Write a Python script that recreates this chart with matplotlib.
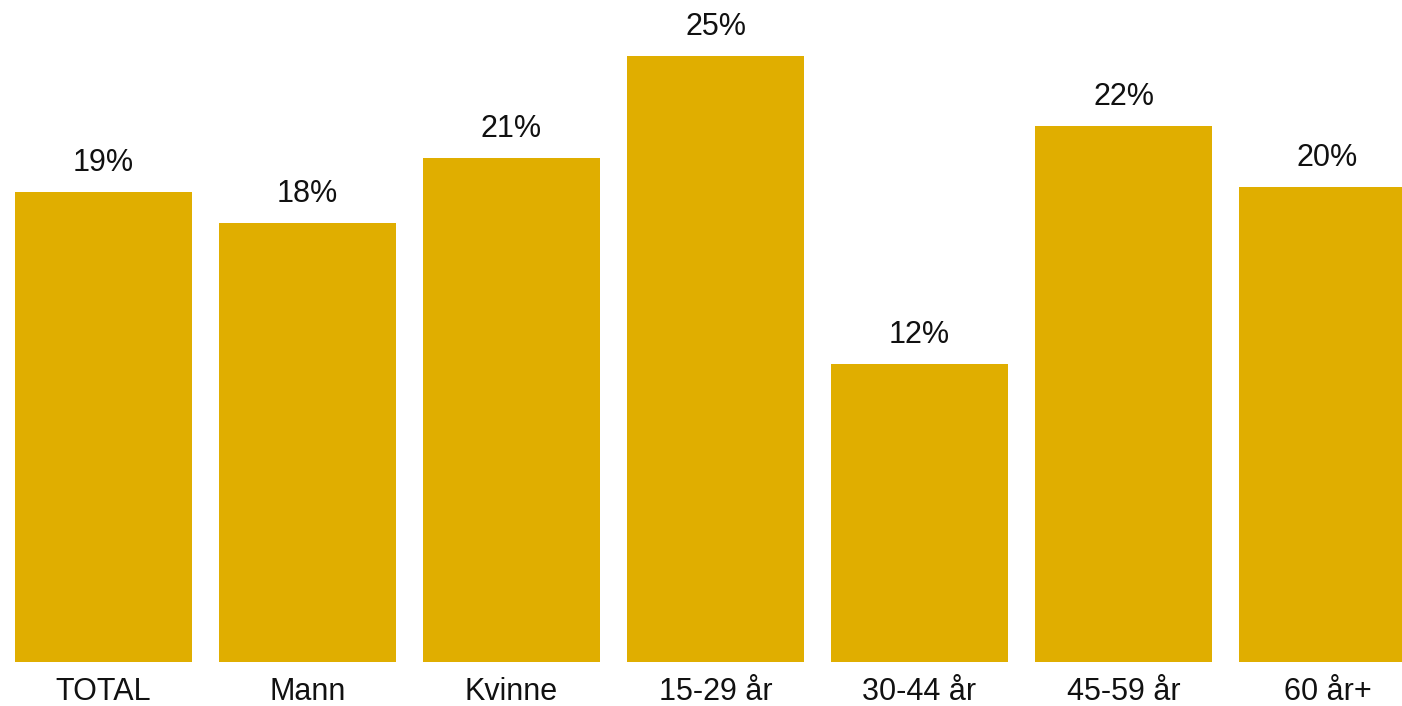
import matplotlib.pyplot as plt

categories = ['TOTAL', 'Mann', 'Kvinne', '15-29 år', '30-44 år', '45-59 år', '60 år+']
values = [19.4, 18.1, 20.8, 25.0, 12.3, 22.1, 19.6]
labels = ['19%', '18%', '21%', '25%', '12%', '22%', '20%']

plt.rcParams['font.family'] = ['Liberation Sans', 'DejaVu Sans']

fig = plt.figure(figsize=(14.02, 7.06), dpi=100)
ax = fig.add_axes([0, (706 - 662) / 706, 1, 662 / 706])

x = range(len(categories))
bars = ax.bar(x, values, width=177 / 204, color='#E0AE00')

for b, lab in zip(bars, labels):
    ax.annotate(lab, (b.get_x() + b.get_width() / 2, b.get_height()),
                xytext=(0, 15), textcoords='offset points',
                ha='center', va='baseline', fontsize=22, color='#111111')

ax.set_xlim(-0.434 - 15 / 204, -0.434 + (1402 - 15) / 204)
ax.set_ylim(0, 662 / 24.25)
ax.set_xticks(list(x))
ax.set_xticklabels(categories, fontsize=22, color='#111111')
ax.tick_params(axis='x', length=0, pad=10.5)
ax.set_yticks([])
for s in ax.spines.values():
    s.set_visible(False)

fig.savefig('out.png', dpi=100)
